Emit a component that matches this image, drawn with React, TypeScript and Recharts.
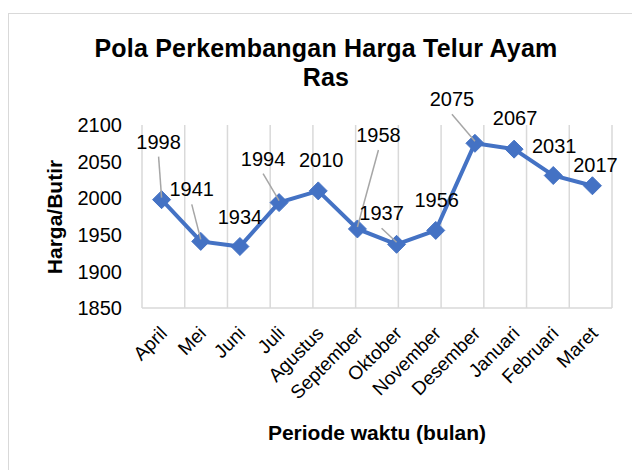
import { ComposedChart, Line, XAxis, YAxis, CartesianGrid, LabelList } from 'recharts'

const months = [
  'April', 'Mei', 'Juni', 'Juli', 'Agustus', 'September',
  'Oktober', 'November', 'Desember', 'Januari', 'Februari', 'Maret',
]
const prices = [1998, 1941, 1934, 1994, 2010, 1958, 1937, 1956, 2075, 2067, 2031, 2017]
const yTicks = [1850, 1900, 1950, 2000, 2050, 2100]
const gridTicks = [0, 1, 2, 3, 4, 5, 6, 7, 8, 9, 10, 11, 12]

const data = months.map((m, i) => ({ month: m, price: prices[i] }))

// label offsets relative to the point, like Excel's hand-dragged labels
const labelPos = [
  { dx: -3, dy: -58, leader: true },
  { dx: -9, dy: -52, leader: true },
  { dx: 0, dy: -30, leader: false },
  { dx: -16, dy: -44, leader: true },
  { dx: 3, dy: -31, leader: false },
  { dx: 21, dy: -94, leader: true },
  { dx: -15, dy: -31, leader: true },
  { dx: 1, dy: -30, leader: false },
  { dx: -23, dy: -44, leader: true },
  { dx: 1, dy: -31, leader: false },
  { dx: 1, dy: -30, leader: false },
  { dx: 3, dy: -21, leader: false },
]

const FONT = '"Liberation Sans", Arial, sans-serif'
const BLUE = '#4472C4'

function Diamond(props: any) {
  const { cx, cy } = props
  if (cx == null || cy == null) return null
  const r = 9
  return (
    <polygon
      points={`${cx},${cy - r} ${cx + r},${cy} ${cx},${cy + r} ${cx - r},${cy}`}
      fill={BLUE}
      stroke={BLUE}
      strokeWidth={1}
    />
  )
}

function MonthTick(props: any) {
  const { x, y, payload } = props
  const px = x + 3
  const py = y + 23
  return (
    <text
      x={px}
      y={py}
      transform={`rotate(-45, ${px}, ${py})`}
      textAnchor="end"
      dominantBaseline="middle"
      fontSize={19}
      fontFamily={FONT}
      fill="#000"
    >
      {payload.value}
    </text>
  )
}

function PriceLabel(props: any) {
  const { x, y, value, index } = props
  const p = labelPos[index]
  if (!p) return null
  const lx = x + p.dx
  const ly = y + p.dy
  return (
    <g>
      {p.leader && (
        <line x1={lx} y1={ly + 15} x2={x} y2={y - 2} stroke="#a6a6a6" strokeWidth={1.5} />
      )}
      <text
        x={lx}
        y={ly}
        textAnchor="middle"
        dominantBaseline="central"
        fontSize={20}
        fontFamily={FONT}
        fill="#000"
      >
        {value}
      </text>
    </g>
  )
}

export default function App() {
  return (
    <div
      style={{
        position: 'fixed',
        left: 0,
        top: 0,
        width: 632,
        height: 470,
        overflow: 'hidden',
        background: '#fff',
        fontFamily: FONT,
      }}
    >
      <div
        style={{
          position: 'absolute',
          left: 8,
          top: 13,
          width: 700,
          height: 500,
          border: '1.5px solid #d9d9d9',
        }}
      />
      <div
        style={{
          position: 'absolute',
          left: 0,
          top: 34,
          width: 652,
          textAlign: 'center',
          font: `bold 25px/29px ${FONT}`,
          letterSpacing: 0.2,
          color: '#000',
        }}
      >
        Pola Perkembangan Harga Telur Ayam
        <br />
        Ras
      </div>
      <div
        style={{
          position: 'absolute',
          left: 55,
          top: 217,
          transform: 'translate(-50%, -50%) rotate(-90deg)',
          whiteSpace: 'nowrap',
          font: `bold 21px ${FONT}`,
          color: '#000',
        }}
      >
        Harga/Butir
      </div>
      <div
        style={{
          position: 'absolute',
          left: 377,
          top: 433,
          transform: 'translate(-50%, -50%)',
          whiteSpace: 'nowrap',
          font: `bold 21px ${FONT}`,
          color: '#000',
        }}
      >
        Periode waktu (bulan)
      </div>
      <div style={{ position: 'absolute', left: 0, top: 0 }}>
        <ComposedChart
          width={632}
          height={470}
          data={data}
          margin={{ top: 125, right: 20, bottom: 62, left: 42 }}
        >
          <CartesianGrid
            xAxisId="grid"
            horizontal={false}
            stroke="#d9d9d9"
            strokeWidth={1.5}
          />
          <XAxis
            xAxisId="grid"
            type="number"
            domain={[0, 12]}
            ticks={gridTicks}
            hide
          />
          <XAxis
            xAxisId="cat"
            dataKey="month"
            scale="band"
            interval={0}
            height={100}
            tickSize={0}
            tickMargin={0}
            tickLine={false}
            axisLine={{ stroke: '#d9d9d9', strokeWidth: 1.5 }}
            tick={<MonthTick />}
          />
          <YAxis
            type="number"
            domain={[1850, 2100]}
            ticks={yTicks}
            width={100}
            tickSize={0}
            tickMargin={20}
            tickLine={false}
            axisLine={false}
            tick={{ fontSize: 20, fill: '#000', fontFamily: FONT }}
          />
          <Line
            xAxisId="cat"
            dataKey="price"
            stroke={BLUE}
            strokeWidth={4}
            dot={<Diamond />}
            activeDot={false}
            isAnimationActive={false}
          >
            <LabelList dataKey="price" content={<PriceLabel />} />
          </Line>
        </ComposedChart>
      </div>
    </div>
  )
}
